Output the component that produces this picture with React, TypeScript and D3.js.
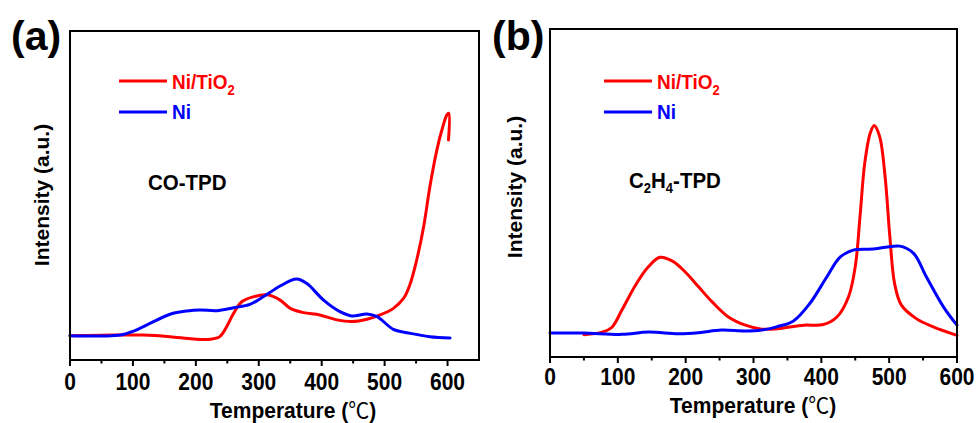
import React from "react";
import * as d3 from "d3";

// Panel (a) CO-TPD
const coTempNiTiO2 = [0, 50, 80, 117, 159, 196, 223, 238, 249, 260, 273, 291, 313, 334, 350, 371, 397, 424, 448, 472, 493, 514, 530, 540, 551, 562, 572, 583, 591, 599, 602, 601.5];
const coValNiTiO2 = [7.4, 7.5, 7.6, 7.6, 7.1, 6.4, 6.3, 7.1, 10.1, 14.2, 17.7, 19.2, 19.8, 18.2, 15.7, 14.4, 13.7, 12.2, 11.7, 12.4, 13.7, 15.7, 18.7, 22.8, 30.4, 40.5, 52.7, 63.8, 69.9, 74.5, 75.0, 66.9];
const coTempNi = [0, 53, 80, 101, 127, 159, 186, 207, 233, 260, 286, 307, 334, 360, 376, 403, 429, 448, 472, 488, 514, 541, 572, 604];
const coValNi = [7.4, 7.3, 7.6, 8.8, 11.1, 13.9, 14.9, 15.2, 15.0, 15.9, 16.9, 19.2, 22.5, 24.6, 23.3, 18.2, 14.7, 13.4, 14.0, 13.2, 9.3, 8.1, 7.1, 6.7];

// Panel (b) C2H4-TPD
const ethTempNiTiO2 = [50, 77, 91, 106, 126, 145, 162, 180, 199, 219, 239, 263, 288, 312, 339, 374, 403, 423, 440, 450, 457, 464, 472, 478, 486, 494, 501, 508, 518, 540, 565, 600];
const ethValNiTiO2 = [6.8, 7.6, 9.0, 14.3, 21.9, 27.5, 30.4, 29.3, 26.0, 21.4, 16.8, 12.2, 9.7, 8.5, 8.7, 9.7, 9.9, 12.2, 18.3, 27.5, 42.8, 59.1, 68.2, 70.6, 67.2, 55.0, 36.7, 22.4, 15.8, 11.7, 9.2, 6.6];
const ethTempNi = [0, 49, 106, 145, 189, 219, 253, 288, 312, 334, 359, 383, 408, 428, 447, 477, 516, 536, 555, 580, 600];
const ethValNi = [7.3, 7.3, 6.9, 7.6, 7.1, 7.4, 8.2, 7.9, 8.2, 9.2, 11.0, 16.3, 24.4, 30.5, 32.6, 32.9, 33.8, 31.6, 24.4, 15.3, 9.7];

const majorTicks = [0, 100, 200, 300, 400, 500, 600];
const minorTicks = [50, 150, 250, 350, 450, 550];

const RED = "#ff0000";
const BLUE = "#0000ff";
const FONT = "'Liberation Sans', Arial, sans-serif";

type PanelProps = {
  left: number; right: number; top: number; bottom: number;
  xMax: number;
  series: { t: number[]; v: number[]; color: string }[];
  letter: string; letterX: number;
  legendX: number;
  labelGap: number;
  titleX: number; titleY: number;
  yLabelX: number; yLabelY: number;
  annotation: React.ReactNode;
};

function Panel(p: PanelProps) {
  const x = d3.scaleLinear().domain([0, p.xMax]).range([p.left, p.right]);
  const y = d3.scaleLinear().domain([0, 100]).range([p.bottom, p.top]);
  const line = d3
    .line<[number, number]>()
    .x((d) => x(d[0]))
    .y((d) => y(d[1]))
    .curve(d3.curveCatmullRom.alpha(0.5));
  return (
    <g>
      {p.series.map((s, i) => (
        <path
          key={i}
          d={line(s.t.map((t, j) => [t, s.v[j]]) as [number, number][]) || ""}
          fill="none"
          stroke={s.color}
          strokeWidth={3}
          strokeLinejoin="round"
          strokeLinecap="round"
        />
      ))}
      <rect x={p.left} y={p.top} width={p.right - p.left} height={p.bottom - p.top} fill="none" stroke="#000" strokeWidth={2} />
      {majorTicks.map((t) => (
        <g key={"M" + t}>
          <line x1={x(t)} x2={x(t)} y1={p.bottom} y2={p.bottom + 6} stroke="#000" strokeWidth={2} />
          <text
            transform={`translate(${x(t)},${p.bottom + p.labelGap}) scale(1,1.15)`}
            textAnchor="middle" fontFamily={FONT} fontWeight="bold" fontSize={21} fill="#000"
          >
            {t}
          </text>
        </g>
      ))}
      {minorTicks.map((t) => (
        <line key={"m" + t} x1={x(t)} x2={x(t)} y1={p.bottom} y2={p.bottom + 3.5} stroke="#000" strokeWidth={2} />
      ))}
      <text
        transform={`translate(${p.titleX},${p.titleY}) scale(1,1.05)`}
        textAnchor="middle" fontFamily={FONT} fontWeight="bold" fontSize={21} fill="#000"
      >
        Temperature (<tspan fontFamily="'Noto Sans CJK SC'" fontWeight="normal">℃</tspan>)
      </text>
      <text
        transform={`translate(${p.yLabelX},${p.yLabelY}) rotate(-90)`}
        textAnchor="middle"
        fontFamily={FONT}
        fontWeight="bold"
        fontSize={21}
        fill="#000"
      >
        Intensity (a.u.)
      </text>
      <text x={p.letterX} y={50} fontFamily={FONT} fontWeight="bold" fontSize={41} fill="#000">
        {p.letter}
      </text>
      <line x1={p.legendX} x2={p.legendX + 48} y1={81} y2={81} stroke={RED} strokeWidth={3} />
      <text transform={`translate(${p.legendX + 53},89) scale(1,1.1)`} fontFamily={FONT} fontWeight="bold" fontSize={19} fill={RED}>
        Ni/TiO<tspan fontSize={13} dy={5}>2</tspan>
      </text>
      <line x1={p.legendX} x2={p.legendX + 48} y1={112} y2={112} stroke={BLUE} strokeWidth={3} />
      <text transform={`translate(${p.legendX + 53},119) scale(1,1.1)`} fontFamily={FONT} fontWeight="bold" fontSize={19} fill={BLUE}>
        Ni
      </text>
      {p.annotation}
    </g>
  );
}

export default function App() {
  return (
    <svg width={977} height={423} style={{ position: "absolute", left: 0, top: 0, background: "#fff" }}>
      <Panel
        left={70} right={479} top={31} bottom={360} xMax={650}
        series={[
          { t: coTempNiTiO2, v: coValNiTiO2, color: RED },
          { t: coTempNi, v: coValNi, color: BLUE },
        ]}
        letter="(a)" letterX={11}
        legendX={119}
        labelGap={30}
        titleX={293} titleY={418}
        yLabelX={49} yLabelY={195}
        annotation={
          <text transform="translate(148,190) scale(1,1.08)" fontFamily={FONT} fontWeight="bold" fontSize={20.5} fill="#000">
            CO-TPD
          </text>
        }
      />
      <Panel
        left={550} right={957} top={29} bottom={357} xMax={600}
        series={[
          { t: ethTempNiTiO2, v: ethValNiTiO2, color: RED },
          { t: ethTempNi, v: ethValNi, color: BLUE },
        ]}
        letter="(b)" letterX={492}
        legendX={604}
        labelGap={28}
        titleX={753} titleY={413}
        yLabelX={522} yLabelY={187}
        annotation={
          <text transform="translate(629,188) scale(1,1.08)" fontFamily={FONT} fontWeight="bold" fontSize={20.5} fill="#000">
            C<tspan fontSize={13} dy={5}>2</tspan>
            <tspan dy={-5}>H</tspan>
            <tspan fontSize={13} dy={5}>4</tspan>
            <tspan dy={-5}>-TPD</tspan>
          </text>
        }
      />
    </svg>
  );
}
